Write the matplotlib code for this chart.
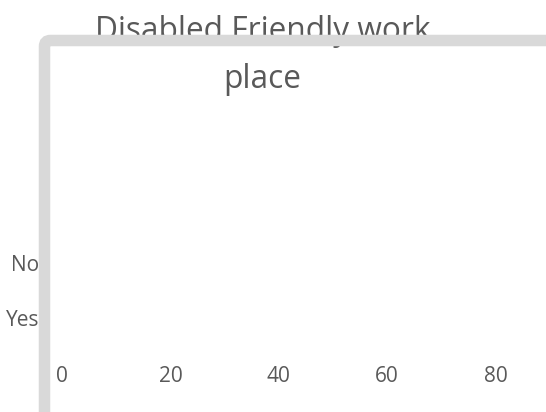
import matplotlib.pyplot as plt
from matplotlib.patches import FancyBboxPatch
from matplotlib.transforms import IdentityTransform

plt.rcParams['font.family'] = ['Open Sans', 'DejaVu Sans']

# data
categories = ['Yes', 'No']
values = [0, 0]
xticks = [0, 20, 40, 60, 80]

W, H = 546, 412
fig = plt.figure(figsize=(W / 100, H / 100), dpi=100)

# axes: value 0 at x=62px, 20 units per 108.4px
left, right = 62, 546
top, bottom = 235.5, 345.5
ax = fig.add_axes([left / W, (H - bottom) / H, (right - left) / W, (bottom - top) / H])
ax.barh(categories, values, color='#4472c4', height=0.6)
ax.set_xlim(0, (right - left) / 108.4 * 20)
ax.set_ylim(-0.5, 1.5)
ax.set_xticks(xticks)
for s in ax.spines.values():
    s.set_visible(False)
ax.tick_params(axis='x', length=0, pad=15, labelsize=15, labelcolor='#595959')
ax.tick_params(axis='y', length=0, pad=16.5, labelsize=15, labelcolor='#595959')
ax.patch.set_visible(False)

# title (two lines)
fig.text(263 / W, 1 - 40 / H, 'Disabled Friendly work', ha='center', va='baseline',
         fontsize=22.8, color='#595959')
fig.text(262.5 / W, 1 - 88 / H, 'place', ha='center', va='baseline',
         fontsize=22.8, color='#595959')

# grey wall frame drawn over the title
frame = FancyBboxPatch((44.5, H - 700), 800, 700 - 40.5,
                       boxstyle='round,pad=0,rounding_size=6',
                       transform=IdentityTransform(), fill=False,
                       edgecolor='#d9d9d9', linewidth=11.5 * 0.72, zorder=10)
fig.patches.append(frame)
frame.set_figure(fig)

fig.savefig('out.png', dpi=100)
